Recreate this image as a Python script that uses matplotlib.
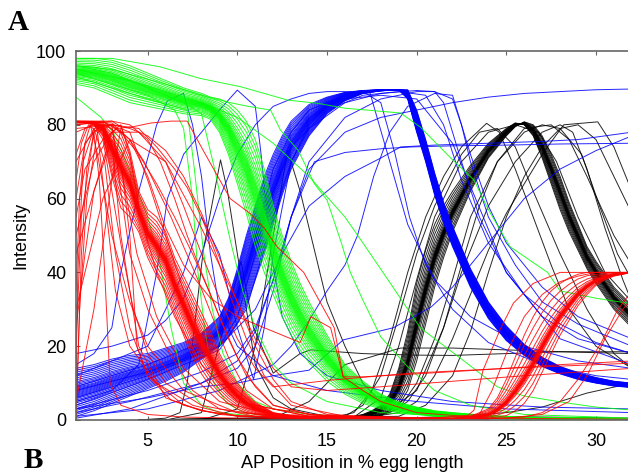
import numpy as np
import matplotlib
matplotlib.use("Agg")
from matplotlib import pyplot as plt

plt.rcParams['font.family'] = ['Liberation Sans', 'DejaVu Sans']

# ---------------- bundles (members lie between two edge curves) ----------------
# red, anterior domain (decline)
red_x = [1, 1.5, 2, 2.5, 3, 3.5, 4, 4.5, 5, 5.5, 6, 6.5, 7, 7.5, 8, 8.5, 9, 9.5, 10,
         10.5, 11, 12, 13, 15, 18, 22, 24]
red_a = [80.5, 80.5, 80, 77, 66, 57.5, 55, 51, 44, 39, 35, 29, 23, 17, 12.5, 9, 6.5, 4.5,
         3, 2, 1.5, 0.9, 0.6, 0.4, 0.2, 0.1, 0.1]
red_b = [81, 81, 81, 81, 81, 79.5, 73, 62, 57, 55, 51, 44, 39, 34, 29, 24, 18, 13.5, 10,
         7, 4.8, 2, 1.2, 0.7, 0.4, 0.3, 0.2]
red_f = [0.0, 0.08, 0.16, 0.24, 0.3, 0.35, 0.39, 0.42, 0.44, 0.46, 0.47, 0.48, 0.49, 0.5,
         0.51, 0.52, 0.53, 0.54, 0.55, 0.56, 0.58, 0.6, 0.63, 0.67, 0.72, 0.78, 0.85,
         0.92, 1.0]

# red, posterior domain (rise)
red2_x = [20, 22, 23, 24, 24.5, 25, 25.5, 26, 26.5, 27, 27.5, 28, 28.5, 29, 29.5, 30,
          30.5, 31, 32]
red2_a = [0.2, 0.5, 1, 3, 6, 11, 17, 23, 28, 32, 35, 37, 38.5, 39.5, 40, 40, 40, 40, 40]
red2_b = [0.1, 0.2, 0.3, 0.5, 0.8, 1.2, 2.5, 4.5, 8, 13, 18, 23, 27, 31, 34, 36.5, 38,
          39, 40]
red2_f = [0.0, 0.15, 0.3, 0.42, 0.5, 0.55, 0.58, 0.6, 0.61, 0.62, 0.63, 0.64, 0.65, 0.66,
          0.67, 0.69, 0.72, 0.8, 0.9, 1.0]

# green
green_x = [1, 2, 3, 4, 5, 6, 7, 8, 8.5, 9, 9.5, 10, 10.5, 11, 11.5, 12, 12.5, 13, 13.5,
           14, 15, 16, 17, 18, 19, 20, 21, 22, 24, 26, 28, 32]
green_a = [98, 98, 97.5, 96, 94, 92, 90, 88.5, 87.5, 87, 86, 84, 81, 76, 68, 58, 50, 43,
           37, 32, 23, 15, 10.5, 7, 4.8, 3.5, 2.5, 2, 1.2, 0.8, 0.6, 0.4]
green_b = [91, 90, 88, 86, 85, 84, 83, 82.5, 81.5, 78, 72, 64, 56, 47, 40, 34, 28, 23, 19,
           15.5, 10.5, 7, 4.5, 3, 2, 1.5, 1, 0.8, 0.5, 0.3, 0.2, 0.1]
green_f = [0.0, 0.06, 0.12, 0.18, 0.24, 0.29, 0.33, 0.37, 0.4, 0.42, 0.44, 0.46, 0.48,
           0.5, 0.52, 0.54, 0.56, 0.58, 0.6, 0.63, 0.66, 0.7, 0.75, 0.8, 0.86, 0.93, 1.0]

# blue
blue_x = [1, 2, 3, 4, 5, 6, 7, 8, 9, 9.5, 10, 10.5, 11, 11.5, 12, 12.5, 13, 14, 15, 16,
          17, 18, 19, 19.5, 20, 20.5, 21, 21.5, 22, 23, 24, 25, 26, 27, 28, 29, 30, 31, 32]
blue_a = [14, 15, 16.5, 17.5, 18, 19.5, 21, 23.5, 28, 33, 41, 50, 58, 66, 72, 77, 81,
          85.5, 87.5, 88.8, 89.3, 89.5, 89.5, 87, 78, 70, 61, 53.5, 47, 36, 27.5, 21.5,
          17.5, 14.5, 12.5, 11, 10, 9.2, 8.8]
blue_b = [1, 2.5, 4.5, 6.5, 8.5, 10.5, 13, 16.5, 20, 22.5, 26, 31, 38, 45, 53, 61, 68, 77,
          83, 86.5, 88.5, 89.2, 89.5, 89.5, 84, 76, 67, 59, 52.5, 41, 32, 25.5, 20.5, 17,
          14.5, 12.8, 11.5, 10.5, 10]
blue_f = [0.0, 0.04, 0.08, 0.12, 0.16, 0.2, 0.24, 0.28, 0.31, 0.34, 0.37, 0.4, 0.42, 0.44,
          0.46, 0.48, 0.5, 0.52, 0.54, 0.56, 0.58, 0.6, 0.63, 0.66, 0.69, 0.72, 0.76, 0.8,
          0.84, 0.88, 0.92, 0.96, 1.0]

# black
black_x = [4.5, 14, 16, 17, 17.5, 18, 18.5, 19, 19.5, 20, 20.5, 21, 21.5, 22, 23, 24, 25,
           25.5, 26, 26.5, 27, 27.5, 28, 28.5, 29, 29.5, 30, 31, 32]
black_a = [0, 0, 0.5, 1.5, 2.5, 4, 7, 14, 24, 37, 46, 53, 58, 62, 69, 75, 79, 80.5, 80,
           77, 71, 64, 57, 51, 46, 41, 37, 30, 25]
black_b = [0, 0, 0.2, 0.5, 1, 1.5, 2.5, 4, 8, 16, 26, 36, 44, 51, 62, 71, 77, 79.5, 80.8,
           80, 77, 72, 66, 59, 53, 47, 43, 36, 31]
black_f = [0.0, 0.08, 0.16, 0.24, 0.31, 0.37, 0.42, 0.45, 0.47, 0.49, 0.5, 0.51, 0.52,
           0.53, 0.54, 0.55, 0.56, 0.57, 0.58, 0.6, 0.63, 0.68, 0.75, 0.84, 0.92, 1.0]

# ---------------- single traces outside the bundles ----------------
red_lines = [
    ([1, 1.3, 2, 2.5, 3, 3.5, 4.5, 6, 8, 10, 14, 24],
     [20, 55, 78, 80, 75, 50, 20, 6, 2.5, 1, 0.5, 0.2]),
    ([1, 1.5, 2, 2.3, 2.6, 2.9, 3.5, 5, 7, 10, 15, 24],
     [60, 75, 78, 65, 40, 10, 4, 1.5, 0.8, 0.5, 0.3, 0.1]),
    ([1, 2, 3, 3.5, 4, 4.4, 5, 6.3, 8, 10, 15, 24],
     [45, 62, 76, 70, 50, 20, 12, 5.4, 2.5, 1.2, 0.5, 0.2]),
    ([1, 2, 3, 3.5, 4, 5, 6, 7, 8, 9, 11, 14, 24],
     [5, 30, 65, 79, 78, 65, 50, 35, 22, 12, 4, 1, 0.2]),
    ([1, 1.2, 1.6, 2.2, 3, 3.5, 4, 5, 6, 7.5, 9, 12, 24],
     [0, 30, 60, 78, 80, 62, 45, 30, 20, 8, 3, 1, 0.2]),
    ([1, 1.1, 1.4, 2, 2.6, 3.2, 4, 5, 7, 9, 12, 24],
     [10, 40, 70, 79, 70, 45, 25, 12, 4, 1.5, 0.6, 0.2]),
    ([1, 1.2, 1.5, 1.8, 2.2, 3, 4, 5, 7, 10, 15, 24],
     [35, 60, 75, 80, 72, 50, 32, 20, 8, 2, 0.5, 0.2]),
    ([1, 1.3, 1.7, 2.2, 2.6, 3.2, 4, 5.5, 7.5, 10, 24],
     [65, 75, 80, 78, 60, 35, 20, 10, 4, 1, 0.2]),
    ([1, 1.5, 2, 2.5, 3, 3.6, 4.2, 5, 6, 8, 11, 24],
     [72, 79, 80, 76, 62, 45, 30, 18, 10, 4, 1, 0.2]),
    ([1, 1.1, 1.3, 1.6, 2, 2.5, 3, 3.6, 4.4, 5.5, 7, 9, 12, 24],
     [0, 15, 45, 68, 78, 80, 79, 66, 45, 28, 14, 5, 1.5, 0.2]),
    ([1, 1.5, 2, 3, 3.5, 4, 4.6, 5.5, 6.5, 8, 10, 14, 24],
     [25, 45, 62, 78, 80, 72, 55, 40, 28, 15, 5, 1, 0.2]),
    ([1, 3, 4, 5, 5.7, 6.5, 7.2, 8, 9, 10, 11, 12, 14, 18, 24],
     [80, 81, 80, 76, 70, 60, 50, 40, 28, 17, 9, 4, 1.5, 0.5, 0.2]),
    ([1, 3, 4.5, 5.5, 6.5, 7.2, 8, 8.8, 9.5, 10.5, 11.5, 13, 16, 24],
     [79, 80, 79, 74, 68, 63, 55, 45, 35, 22, 12, 4, 1, 0.2]),
    ([1, 2.5, 3.5, 4.5, 5.5, 6.5, 7.5, 8.5, 9.5, 10.5, 12, 14, 18, 24],
     [80, 81, 78, 72, 64, 55, 45, 34, 22, 12, 4, 1.5, 0.5, 0.2]),
    ([1, 3, 4, 4.8, 5.5, 6.3, 7, 7.8, 8.6, 9.5, 10.5, 12, 15, 24],
     [81, 80.5, 76, 70, 63, 55, 47, 38, 28, 17, 8, 3, 1, 0.2]),
    ([1, 2, 3, 4, 5, 6, 7, 8, 9, 10, 11, 12, 13, 15, 20, 24],
     [78, 80, 80, 79, 77, 73, 66, 56, 44, 32, 20, 11, 5, 1.5, 0.4, 0.2]),
    ([1, 1.5, 2.5, 3.3, 4.2, 5.2, 6.3, 7.2, 8.1, 9.6, 10.7, 11.5, 12.2, 13.7, 15.4, 15.9,
      17, 20, 25, 28, 32],
     [55, 68, 76, 79, 79.5, 80.5, 81, 81, 73, 60, 56, 52, 47, 40, 25, 11.7, 11.7, 12.5,
      14, 15, 16]),
    ([1, 2, 3, 4.5, 6, 7, 8, 9, 10, 11, 12, 15.2, 19.7, 25, 32],
     [50, 70, 78, 78, 70, 58, 45, 33, 22, 14, 9, 10.8, 12.7, 14, 15.4]),
    ([1, 2.5, 4, 6, 8, 9, 10, 11, 12, 13, 15, 18, 22, 26, 32],
     [30, 60, 76, 70, 52, 42, 32, 22, 14, 9, 8, 9, 10.5, 12, 14]),
    ([1, 2, 3, 4, 5, 6, 7, 8.5, 10, 12, 13.5, 14.1, 15.2, 15.9, 17, 18, 20, 24, 32],
     [70, 79, 80, 76, 66, 52, 42, 33, 28, 24, 21, 28, 25, 11.7, 8, 5, 2, 0.5, 0.2]),
    ([20, 22.8, 23.2, 23.7, 24.7, 25.4, 26.5, 28, 30, 32],
     [0.3, 1, 2.7, 13.5, 25, 31.7, 37, 40, 40, 40]),
    ([20, 24, 26, 27, 28, 29, 30.3, 31.2, 32],
     [0.1, 0.3, 0.8, 2, 5, 11, 21, 29.8, 35]),
    ([20, 25, 27, 28.5, 29.5, 30.5, 31.5, 32],
     [0.1, 0.5, 1.5, 5, 12, 22, 30, 33]),
    ([20, 23.5, 24.2, 25, 26, 27, 28, 29, 30, 32],
     [0.2, 1.5, 8, 18, 28, 34, 37.5, 39, 40, 40]),
]

green_lines = [
    ([1, 3, 4.2, 5.7, 7.9, 10.2, 12.8, 14.5, 16, 19.1, 20.2, 21.9, 23.2, 24, 25.2, 27.3,
      28, 30, 32],
     [98, 98, 97, 95.7, 92.6, 90.3, 86.7, 85.8, 84.5, 83.2, 79.4, 71, 65, 57, 47, 40, 35,
      33, 31.5]),
    ([1, 2.4, 3.1, 3.9, 5, 5.7, 6.3, 7, 8, 9, 11, 15, 32],
     [87.5, 82, 77.7, 68.6, 55, 42, 25, 10, 4, 2, 1, 0.5, 0.2]),
    ([1, 3, 6, 8, 9.6, 10.6, 11.85, 12.4, 13.4, 14.3, 15, 15.8, 16.3, 17, 18, 19.5, 21,
      23, 26, 32],
     [96, 95, 91, 88, 86, 85, 84, 78.6, 73, 64, 59.6, 48, 40, 32.5, 22.5, 14.4, 8, 4,
      1.5, 0.5]),
    ([1, 4, 8, 10, 12, 14, 16, 17, 18.4, 20.2, 22.8, 24.5, 26, 28.4, 30, 32],
     [95, 92, 86, 82, 75, 66, 55, 48, 38, 25, 15.4, 9, 6.5, 4.6, 3.5, 2.7]),
    ([1, 3, 5, 6.5, 7, 7.5, 7.8, 8.2, 8.7, 9.4, 10.4, 12, 16, 32],
     [94, 91, 88, 84, 79, 60, 40, 24, 10, 4.6, 1.9, 1, 0.5, 0.2]),
    ([1, 3, 5, 7.2, 7.6, 8.1, 8.6, 9.2, 10, 11, 12, 14, 17, 22, 32],
     [93, 90, 87, 84, 68, 46, 30, 18, 10, 5, 3, 1.5, 0.8, 0.4, 0.2]),
    ([1, 3, 5, 7, 8, 8.7, 9.6, 10.3, 11, 12, 13, 15, 18, 22, 32],
     [96, 94, 90, 86, 83, 68.6, 48.8, 35, 25, 15, 10, 5, 2, 1, 0.3]),
]

blue_lines = [
    ([1, 5, 8, 10, 11, 12, 13, 14, 16, 18, 20, 22, 24, 26, 28, 30, 32],
     [3, 8, 13, 18, 25, 38, 55, 68, 78, 82, 84, 86, 87.5, 88.5, 89, 89.5, 89.7]),
    ([1, 4, 8, 10, 11, 12, 13, 14.3, 16, 18, 19.7, 22, 25, 28, 32],
     [2, 5, 10, 14, 20, 35, 55, 70, 72.5, 73.5, 74, 74.3, 74.5, 74.8, 75]),
    ([1, 5, 9, 11, 12.5, 14, 16, 18, 19.1, 21, 24, 27, 29, 32],
     [8, 13, 20, 30, 45, 58, 66, 71, 74, 74.5, 75, 75.5, 76, 78]),
    ([1, 2, 3, 3.5, 4.5, 5.5, 6.1, 7, 7.5, 8, 8.5, 9, 10, 12, 15, 20, 25, 32],
     [15, 18, 25, 40, 62, 80, 86.5, 88.5, 80, 66, 45, 30, 20, 12, 8, 5, 3, 2]),
    ([1, 3, 4.5, 5.5, 6.1, 7, 8, 9, 10, 11, 11.3, 11.85, 12.5, 13.5, 15, 18, 22, 27, 32],
     [5, 8, 15, 40, 60, 72, 78, 84, 89.4, 85, 73, 46, 28, 18, 12, 8, 5, 3.5, 3]),
    ([1, 3, 5, 6, 7, 8, 9, 10, 11, 12, 13, 14, 15, 16, 17.4, 18.5, 19.5, 21, 23, 26, 29,
      32],
     [18, 20, 23, 27, 33, 45, 60, 72, 80, 85, 87, 88.5, 89, 89, 88.6, 70, 53, 38, 28, 20,
      16, 14]),
    ([1, 5, 9, 12, 13, 14, 15, 16, 16.7, 17.6, 18.5, 19.5, 21, 22, 23, 24, 25, 27, 29, 32],
     [1, 3, 8, 15, 20, 27, 35, 42, 50, 66, 78, 85, 88.5, 88, 72, 58, 48, 36, 28, 22]),
    ([1, 4, 8, 10, 11, 12, 13, 14, 16, 18, 20, 21, 22, 22.5, 23, 24, 25.5, 27, 29, 32],
     [0.5, 3, 10, 16, 24, 38, 55, 70, 82, 87, 89, 89, 87, 80, 70, 55, 42, 32, 26, 20]),
    ([1, 3, 5, 7, 8, 9, 10, 10.9, 11.5, 12, 13, 14, 15, 16, 18, 20, 22, 25, 28, 32],
     [12, 16, 20, 40, 55, 45, 25, 11, 25, 45, 70, 80, 85, 87, 88, 87, 75, 40, 22, 15]),
    ([1, 5, 8, 10, 12, 14, 15.9, 18.7, 20.8, 22, 24, 26, 28, 30, 32],
     [3, 6, 9, 10, 12, 13.5, 21.7, 25, 30.6, 36, 48, 60, 68, 73, 77]),
    ([1, 5, 9, 10.5, 12, 13, 14, 16, 18, 20, 21, 21.5, 22.5, 23.5, 25, 27, 29, 32],
     [4, 11, 19, 30, 55, 70, 79, 86, 88.5, 89.3, 89, 86, 70, 55, 40, 28, 22, 18]),
    ([1, 5, 9, 10.5, 12, 13, 14, 16, 17, 18, 18.8, 19.6, 20.5, 22, 24, 27, 30, 32],
     [9, 15, 23, 40, 68, 78, 84, 88, 89, 86, 72, 55, 42, 30, 21, 15, 12, 11]),
    ([1, 5, 9, 10, 11, 12, 13, 15, 17, 19, 20.5, 21.5, 22.5, 24, 26, 28, 30, 32],
     [6, 12, 20, 28, 45, 62, 74, 84, 88, 89, 88, 80, 65, 48, 34, 26, 21, 18]),
]

black_lines = [
    ([4.5, 6, 6.8, 7.2, 7.6, 8.1, 9.06, 9.45, 10, 10.5, 11, 12, 13, 15, 20, 32],
     [0, 0.5, 2, 10, 25, 46, 70.5, 62, 45, 30, 15, 6, 3, 1, 0.5, 0.3]),
    ([4.5, 6, 8, 9.5, 10.2, 10.9, 12, 13.5, 14.1, 17, 19.7, 22, 25, 28, 32],
     [0, 0, 2, 30, 43, 25, 12.7, 18, 19, 18, 17.6, 17.5, 18, 18.5, 18.5]),
    ([4.5, 8, 10, 11, 12, 12.8, 13.5, 14.3, 15, 16, 17, 18, 20, 24, 32],
     [0, 0, 3, 20, 50, 73, 62, 46, 32, 20, 10, 5, 2, 1, 0.5]),
    ([4.5, 15, 16.5, 17.5, 18.5, 19.5, 20.5, 21.5, 22.5, 23.9, 24.6, 25.5, 26.5, 27.5,
      28.5, 30, 32],
     [0, 0.3, 2, 8, 22, 40, 55, 66, 74, 80.4, 78, 68, 55, 42, 30, 20, 14]),
    ([4.5, 17, 19, 20, 21, 22, 23, 24, 25, 26, 27, 28.2, 30.1, 31, 32],
     [0, 0.5, 2, 5, 12, 22, 34, 46, 56, 64, 72, 80, 80.8, 74, 62]),
    ([4.5, 17, 18.5, 19.5, 20.5, 21.5, 22.5, 24, 25.5, 27, 28, 28.7, 29.5, 30.5, 31.5, 32],
     [0, 0.5, 2, 5, 12, 25, 40, 58, 70, 78, 80, 78, 68, 52, 38, 32]),
    ([4.5, 16, 17, 18, 19, 20, 21, 22.5, 23.5, 24.5, 25.5, 26.5, 28, 29.5, 31, 32],
     [0, 1, 4, 12, 28, 45, 58, 72, 78, 79, 74, 62, 45, 30, 18, 14]),
    ([4.5, 19, 20.5, 22, 23, 24, 25, 26, 27, 28, 29, 30, 31, 32],
     [0, 1, 4, 12, 24, 40, 55, 66, 74, 79, 80, 76, 66, 56]),
    ([4.5, 17.5, 19, 20, 21, 22, 23, 24.5, 26, 27, 28, 29.2, 30.2, 31.2, 32],
     [0, 0.5, 3, 10, 22, 38, 55, 70, 78, 80, 79, 72, 58, 45, 38]),
    ([4.5, 16.5, 18, 19, 20, 21, 22.5, 24, 25.5, 26.8, 27.8, 29, 30.5, 32],
     [0, 0.8, 6, 20, 38, 55, 70, 78, 80, 78, 70, 55, 40, 32]),
    ([4.5, 18, 20, 21.5, 22.5, 23.5, 24.5, 26, 27.5, 28.5, 29.5, 31, 32],
     [0, 1, 8, 25, 42, 58, 70, 79, 80, 76, 66, 50, 42]),
    ([4.5, 18, 22, 25, 27, 29.5, 32],
     [0, 0.3, 1, 2, 3.5, 7.3, 10]),
    ([4.5, 12, 14, 16, 19.1, 22, 25, 28, 32],
     [0, 0.5, 5, 15, 19.5, 19.5, 19, 18.5, 18]),
]

x_ticks = [5, 10, 15, 20, 25, 30]
y_ticks = [0, 20, 40, 60, 80, 100]

# ---------------- drawing ----------------
fig = plt.figure(figsize=(6.28, 4.76), dpi=100)
ax = fig.add_axes([76 / 628, 1 - 420 / 476, 1 - 76 / 628, (420 - 51) / 476])

LW = 0.7
AL = 0.85


def draw_bundle(x, a, b, fracs, color):
    a = np.asarray(a, float)
    b = np.asarray(b, float)
    for f in fracs:
        ax.plot(x, a + f * (b - a), color=color, lw=LW, alpha=AL)


def draw_lines(lines, color):
    for xs, ys in lines:
        ax.plot(xs, ys, color=color, lw=LW, alpha=AL)


draw_bundle(black_x, black_a, black_b, black_f, 'black')
draw_lines(black_lines, 'black')
draw_bundle(blue_x, blue_a, blue_b, blue_f, '#0000ff')
draw_lines(blue_lines, '#0000ff')
draw_bundle(green_x, green_a, green_b, green_f, '#00ff00')
draw_lines(green_lines, '#00ff00')
draw_bundle(red_x, red_a, red_b, red_f, '#ff0000')
draw_bundle(red2_x, red2_a, red2_b, red2_f, '#ff0000')
draw_lines(red_lines, '#ff0000')

ax.set_xlim(1, 1 + (628 - 76) / 17.93)
ax.set_ylim(0, 100)
ax.set_xticks(x_ticks)
ax.set_yticks(y_ticks)
ax.tick_params(direction='in', length=3, color='#666666', labelsize=13,
               top=True, right=False)
ax.tick_params(axis='x', pad=9)
ax.tick_params(axis='y', pad=7)
for side in ['left', 'bottom', 'top']:
    ax.spines[side].set_color('#666666')
    ax.spines[side].set_linewidth(1.2)
ax.spines['right'].set_visible(False)

ax.set_xlabel('AP Position in % egg length', fontsize=13, labelpad=4)
ax.set_ylabel('Intensity', fontsize=13, labelpad=5)

fig.text(0.012, 0.937, 'A', fontsize=21, fontweight='bold', family='Liberation Serif')
fig.text(0.038, 0.017, 'B', fontsize=21, fontweight='bold', family='Liberation Serif')

fig.savefig('out.png', dpi=100)
